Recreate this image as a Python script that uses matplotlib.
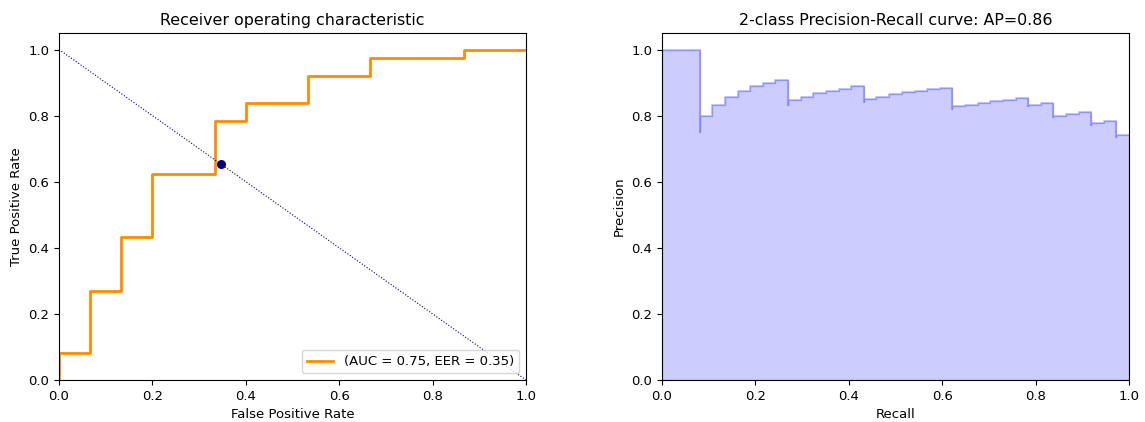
import numpy as np
import matplotlib
matplotlib.use('Agg')
from matplotlib import pyplot as plt

plt.rcParams['font.size'] = 9.5

# ROC curve corners (false positive rate, true positive rate)
fpr = [0.0, 0.0, 0.0667, 0.0667, 0.1333, 0.1333, 0.2, 0.2, 0.3333, 0.3333,
       0.4, 0.4, 0.5333, 0.5333, 0.6667, 0.6667, 0.8667, 0.8667, 1.0]
tpr = [0.0, 0.081, 0.081, 0.270, 0.270, 0.432, 0.432, 0.622, 0.622, 0.784,
       0.784, 0.838, 0.838, 0.919, 0.919, 0.973, 0.973, 1.0, 1.0]
roc_auc = 0.75
eer = 0.35
eer_point = (0.347, 0.653)

# Precision-recall points, ordered by increasing recall
recall = [0.0, 0.027, 0.054, 0.081, 0.081, 0.108, 0.135, 0.162, 0.189, 0.216,
          0.243, 0.270, 0.270, 0.297, 0.324, 0.351, 0.378, 0.405, 0.432, 0.432,
          0.459, 0.486, 0.514, 0.541, 0.568, 0.595, 0.622, 0.622, 0.622, 0.649,
          0.676, 0.703, 0.730, 0.757, 0.784, 0.784, 0.811, 0.838, 0.838, 0.838,
          0.865, 0.892, 0.919, 0.919, 0.919, 0.946, 0.973, 0.973, 0.973, 0.973,
          1.0]
precision = [1.0, 1.0, 1.0, 1.0, 0.750, 0.800, 0.833, 0.857, 0.875, 0.889,
             0.900, 0.909, 0.833, 0.846, 0.857, 0.867, 0.875, 0.882, 0.889, 0.842,
             0.850, 0.857, 0.864, 0.870, 0.875, 0.880, 0.885, 0.852, 0.821, 0.828,
             0.833, 0.839, 0.844, 0.848, 0.853, 0.829, 0.833, 0.838, 0.816, 0.795,
             0.800, 0.805, 0.810, 0.791, 0.773, 0.778, 0.783, 0.766, 0.750, 0.735,
             0.740]
average_precision = 0.86

# sklearn gives these with recall decreasing
recall = np.array(recall)[::-1]
precision = np.array(precision)[::-1]

fig = plt.figure(figsize=(11.45, 4.22), dpi=100)
ax1 = fig.add_axes([59 / 1145, 42 / 422, 467 / 1145, 347 / 422])
ax2 = fig.add_axes([662 / 1145, 42 / 422, 467 / 1145, 347 / 422])

ax1.plot(fpr, tpr, color='darkorange', lw=2,
         label='(AUC = %0.2f, EER = %0.2f)' % (roc_auc, eer))
ax1.plot([0, 1], [1, 0], color='navy', lw=0.8, linestyle=':')
ax1.plot(eer_point[0], eer_point[1], 'o', color='navy', markersize=5.5)
ax1.set_xlim([0.0, 1.0])
ax1.set_ylim([0.0, 1.05])
ax1.set_xlabel('False Positive Rate')
ax1.set_ylabel('True Positive Rate')
ax1.set_title('Receiver operating characteristic')
ax1.legend(loc='lower right')

ax2.step(recall, precision, color='b', alpha=0.2, where='post')
ax2.fill_between(recall, precision, step='post', alpha=0.2, color='b')
ax2.set_xlabel('Recall')
ax2.set_ylabel('Precision')
ax2.set_ylim([0.0, 1.05])
ax2.set_xlim([0.0, 1.0])
ax2.set_title('2-class Precision-Recall curve: AP={0:0.2f}'.format(average_precision))

plt.savefig('out.png')
